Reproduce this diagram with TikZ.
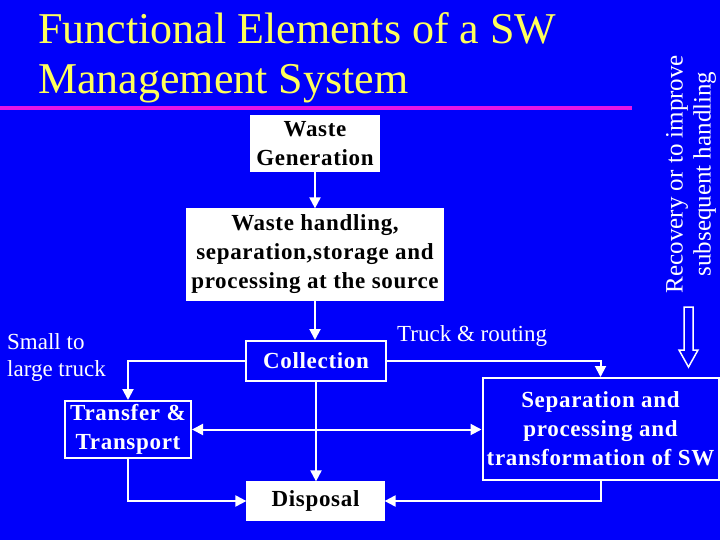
\documentclass[tikz,border=0pt]{standalone}
\usepackage{fontspec}
\setmainfont{Liberation Serif}
\newfontfamily\boxfont[LetterSpace=3]{Liberation Serif}
\usetikzlibrary{arrows.meta}
\definecolor{bgblue}{RGB}{0,0,250}
\definecolor{titleyellow}{RGB}{255,255,90}
\definecolor{rulemag}{RGB}{230,20,230}
\tikzset{
  whitebox/.style={draw=white, fill=white, line width=1.2pt, text=black, inner sep=0pt,
    align=center, font=\boxfont\fontsize{23}{29}\selectfont\bfseries},
  bluebox/.style={draw=white, fill=bgblue, line width=2pt, text=white, inner sep=0pt,
    align=center, font=\boxfont\fontsize{23}{29}\selectfont\bfseries},
  conn/.style={draw=white, line width=2pt, -{Triangle[length=11pt,width=11pt]}},
  lbl/.style={text=white, inner sep=0pt, font=\fontsize{23}{27}\selectfont}
}
\begin{document}
\begin{tikzpicture}[x=1pt,y=-1pt]
\fill[bgblue] (0,0) rectangle (720,540);
\useasboundingbox (0,0) rectangle (720,540);
% title
\node[anchor=north west, inner sep=0pt, align=left, text=titleyellow,
  font=\fontsize{44}{50}\selectfont] (title) at (38,12)
  {Functional Elements of a SW\\Management System};
\draw[rulemag, line width=4pt] (0,108) -- (632,108);
% boxes
\node[whitebox, minimum width=128pt, minimum height=55pt] (gen) at (315,143.5) {Waste\\Generation};
\node[whitebox, minimum width=256pt, minimum height=91pt] (hand) at (315,254.5)
  {Waste handling,\\separation,storage and\\processing at the source};
\node[bluebox, minimum width=140pt, minimum height=40pt] (coll) at (316,361) {Collection};
\node[bluebox, minimum width=126pt, minimum height=57pt] (trans) at (128,429.5) {Transfer \&\\Transport};
\node[whitebox, minimum width=137pt, minimum height=38pt] (disp) at (315.5,501) {Disposal};
\node[bluebox, minimum width=236pt, minimum height=102pt] (sep) at (600.5,429) 
  {Separation and\\processing and\\transformation of SW};
% labels
\node[lbl, align=left, anchor=west] (small) at (7,358) {Small to\\large truck};
\node[lbl, anchor=west] (truck) at (397,336) {Truck \& routing};
\node[lbl, align=center, rotate=90, font=\fontsize{25}{28}\selectfont] (recov) at (691,174)
  {Recovery or to improve\\subsequent handling};
% hollow arrow
\draw[white, line width=1.5pt, fill=bgblue, line join=miter]
  (684,307) -- (693,307) -- (693,350) -- (698,350) -- (688.5,367) -- (679,350) -- (684,350) -- cycle;
% connectors
\draw[conn] (gen.south) -- (hand.north);
\draw[conn] (hand.south) -- (hand.south |- coll.north);
\draw[conn] (coll.west) -| (trans.north);
\draw[conn] (coll.east) -| (sep.north);
\draw[conn] (coll.south) -- (coll.south |- disp.north);
\draw[conn, {Triangle[length=11pt,width=11pt]}-{Triangle[length=11pt,width=11pt]}]
  (trans.east) -- (sep.west |- trans.east);
\draw[conn] (trans.south) |- (disp.west);
\draw[conn] (sep.south) |- (disp.east);
\end{tikzpicture}
\end{document}
